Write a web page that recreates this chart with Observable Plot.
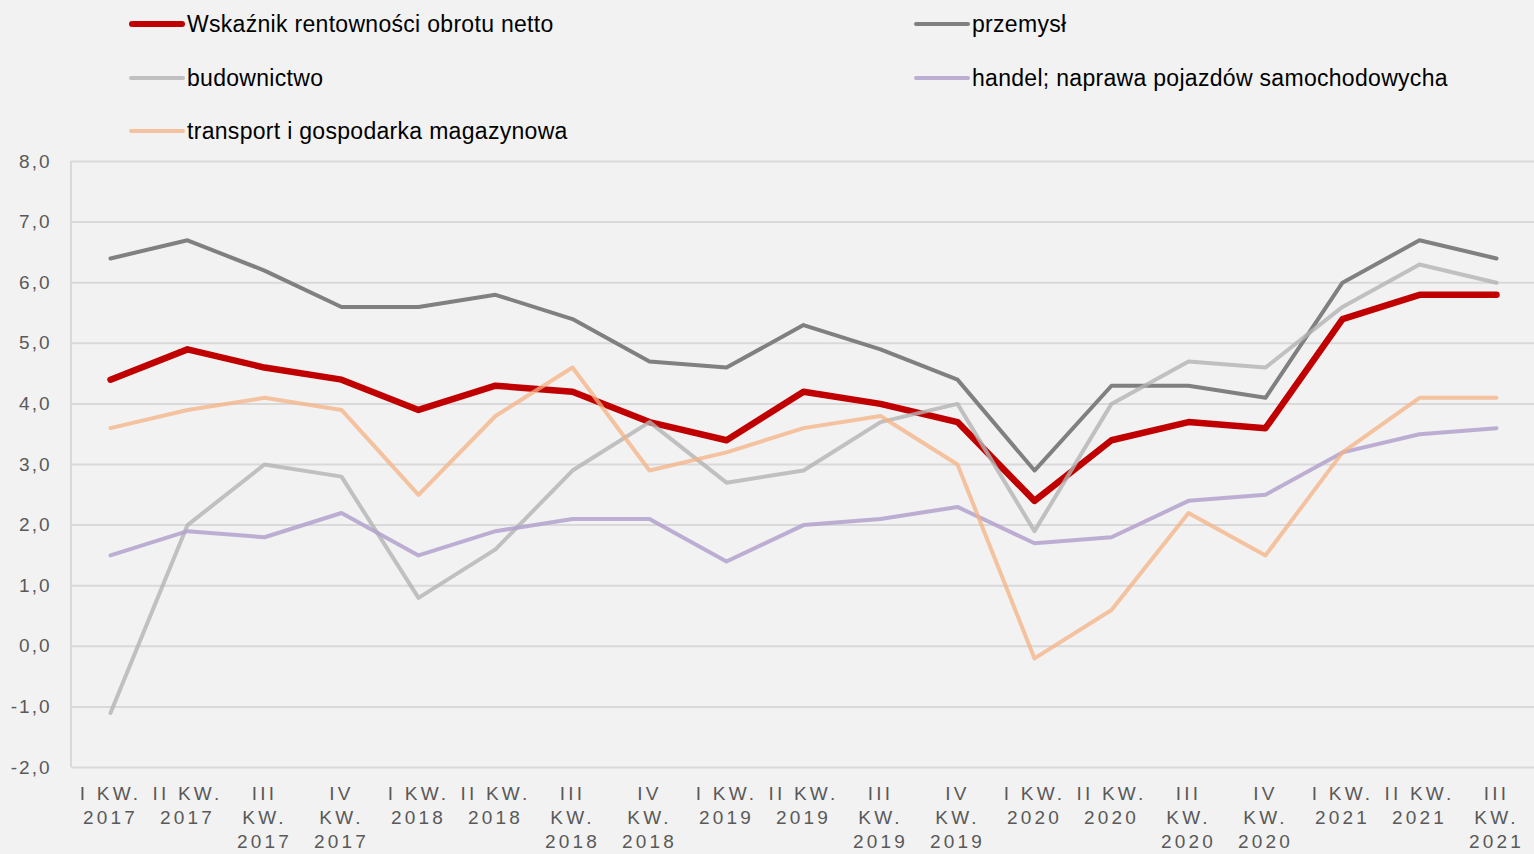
<!DOCTYPE html>
<html>
<head>
<meta charset="utf-8">
<script src="https://cdn.jsdelivr.net/npm/d3@7"></script>
<script src="https://cdn.jsdelivr.net/npm/@observablehq/plot@0.6"></script>
<style>
  html, body { margin: 0; padding: 0; background: #f2f2f2; }
  body { width: 1534px; height: 854px; overflow: hidden; font-family: "Liberation Sans", Arial, sans-serif; }
  #legend { position: relative; width: 1534px; height: 150px; }
  .item { position: absolute; display: flex; align-items: center; font-size: 23px; letter-spacing: 0.3px; color: #000; white-space: nowrap; }
  .sw { display: inline-block; width: 56px; border-radius: 4px; margin-right: 2px; }
  #chart svg { display: block; }
  .xax text { letter-spacing: 3.2px; }
  .yax text { letter-spacing: 2px; }
</style>
</head>
<body>
<div id="legend"></div>
<div id="chart"></div>
<script>
const quarters = [
  "I KW.\n2017", "II KW.\n2017", "III\nKW.\n2017", "IV\nKW.\n2017",
  "I KW.\n2018", "II KW.\n2018", "III\nKW.\n2018", "IV\nKW.\n2018",
  "I KW.\n2019", "II KW.\n2019", "III\nKW.\n2019", "IV\nKW.\n2019",
  "I KW.\n2020", "II KW.\n2020", "III\nKW.\n2020", "IV\nKW.\n2020",
  "I KW.\n2021", "II KW.\n2021", "III\nKW.\n2021"
];
const seriesNames = [
  "Wskaźnik rentowności obrotu netto",
  "przemysł",
  "budownictwo",
  "handel; naprawa pojazdów samochodowycha",
  "transport i gospodarka magazynowa"
];
const wskaznik   = [4.4, 4.9, 4.6, 4.4, 3.9, 4.3, 4.2, 3.7, 3.4, 4.2, 4.0, 3.7, 2.4, 3.4, 3.7, 3.6, 5.4, 5.8, 5.8];
const przemysl   = [6.4, 6.7, 6.2, 5.6, 5.6, 5.8, 5.4, 4.7, 4.6, 5.3, 4.9, 4.4, 2.9, 4.3, 4.3, 4.1, 6.0, 6.7, 6.4];
const budownictwo= [-1.1, 2.0, 3.0, 2.8, 0.8, 1.6, 2.9, 3.7, 2.7, 2.9, 3.7, 4.0, 1.9, 4.0, 4.7, 4.6, 5.6, 6.3, 6.0];
const handel     = [1.5, 1.9, 1.8, 2.2, 1.5, 1.9, 2.1, 2.1, 1.4, 2.0, 2.1, 2.3, 1.7, 1.8, 2.4, 2.5, 3.2, 3.5, 3.6];
const transport  = [3.6, 3.9, 4.1, 3.9, 2.5, 3.8, 4.6, 2.9, 3.2, 3.6, 3.8, 3.0, -0.2, 0.6, 2.2, 1.5, 3.2, 4.1, 4.1];
const yTicks = [-2, -1, 0, 1, 2, 3, 4, 5, 6, 7, 8];

const values = [wskaznik, przemysl, budownictwo, handel, transport];
const colors = ["#c00000", "#808080", "#b3b3b3", "#b3a2cc", "#f4b183"];
const widths = [6.5, 4, 4, 4, 4];
const opac = [1, 1, 0.8, 0.85, 0.75];

// Legend
const legendPos = [[129, 24], [914, 24], [129, 78], [914, 78], [129, 131]];
const legend = document.getElementById("legend");
seriesNames.forEach((name, i) => {
  const d = document.createElement("div");
  d.className = "item";
  d.style.left = legendPos[i][0] + "px";
  d.style.top = (legendPos[i][1] - 14) + "px";
  d.style.height = "28px";
  const sw = document.createElement("span");
  sw.className = "sw";
  sw.style.height = widths[i] + "px";
  sw.style.background = colors[i];
  sw.style.opacity = opac[i];
  d.appendChild(sw);
  const t = document.createElement("span");
  t.textContent = name;
  d.appendChild(t);
  legend.appendChild(d);
});

const rows = (arr) => arr.map((v, j) => ({q: quarters[j], v}));
const fmt = (d) => d.toFixed(1).replace(".", ",");

const marks = [
  Plot.ruleY(yTicks, {stroke: "#d9d9d9", strokeWidth: 2}),
  Plot.axisY({ticks: yTicks, tickFormat: fmt, tickSize: 0, tickPadding: 20, fontSize: 19, fill: "#595959", label: null, className: "yax"}),
  Plot.axisX({tickSize: 0, tickPadding: 15, fontSize: 19, fill: "#595959", lineHeight: 1.27, textAnchor: "middle", label: null, className: "xax"})
];
values.forEach((arr, i) => {
  marks.push(Plot.line(rows(arr), {x: "q", y: "v", stroke: colors[i], strokeWidth: widths[i], strokeOpacity: opac[i], strokeLinejoin: "round", strokeLinecap: "round"}));
});

const chart = Plot.plot({
  width: 1534,
  height: 704,
  marginTop: 11,
  marginBottom: 87,
  marginLeft: 71,
  marginRight: 0,
  style: {background: "#f2f2f2", fontFamily: "'Liberation Sans', Arial, sans-serif", overflow: "visible"},
  x: {type: "point", domain: quarters, padding: 0.5, label: null},
  y: {domain: [-2, 8], label: null},
  marks
});
document.getElementById("chart").appendChild(chart);

// vertical axis line on the left of the plot area
d3.select(chart).insert("line", "g")
  .attr("x1", 71).attr("x2", 71)
  .attr("y1", 11).attr("y2", 704 - 87)
  .attr("stroke", "#d9d9d9").attr("stroke-width", 2);
</script>
</body>
</html>
